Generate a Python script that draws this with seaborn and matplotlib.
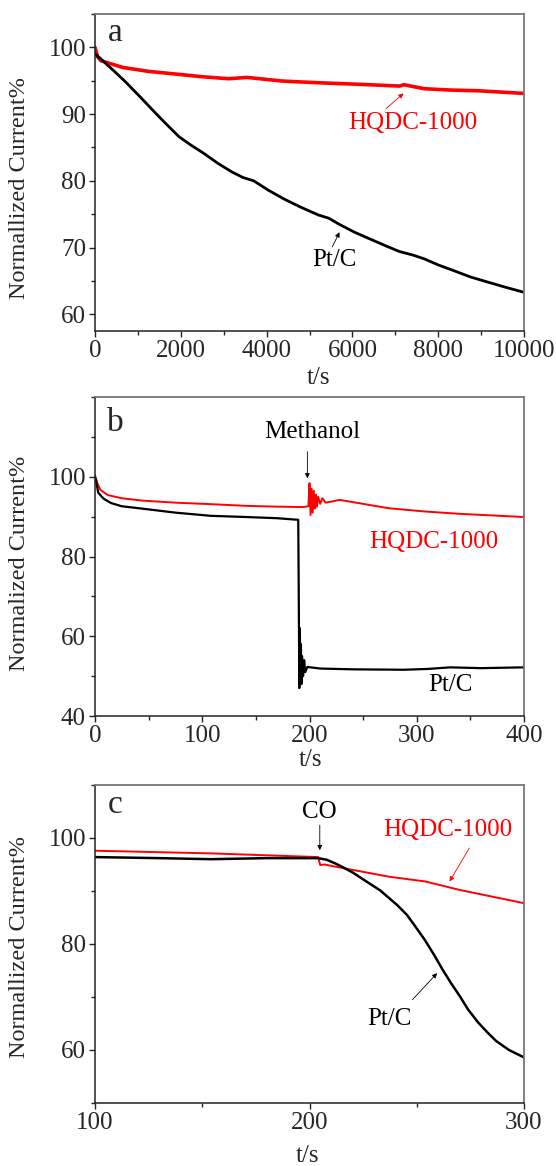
import matplotlib
matplotlib.use("Agg")
import matplotlib.pyplot as plt
from matplotlib.ticker import MultipleLocator
import seaborn as sns
import pandas as pd

# ---- panel a : long-term stability ----
a_t_pt = [0, 150, 300, 470, 700, 1050, 1300, 1600, 1960, 2250, 2540, 2870, 3200, 3450, 3700, 4040,
          4400, 4780, 5200, 5450, 5690, 6050, 6440, 6800, 7100, 7400, 7680, 8000, 8340, 8750, 9170,
          9600, 10000]
a_pt = [99.0, 98.2, 97.3, 96.3, 94.9, 92.6, 90.9, 88.9, 86.6, 85.3, 84.1, 82.6, 81.3, 80.5, 80.0, 78.6,
        77.3, 76.1, 74.9, 74.4, 73.5, 72.3, 71.2, 70.2, 69.4, 68.9, 68.3, 67.4, 66.6, 65.6, 64.8,
        64.0, 63.3]
a_t_hq = [0, 60, 140, 640, 1250, 1880, 2500, 3120, 3540, 4370, 5200, 6020, 7100, 7200, 7680, 8300, 8920, 10000]
a_hq = [100.0, 98.6, 98.0, 97.0, 96.4, 96.0, 95.6, 95.3, 95.5, 94.95, 94.7, 94.5, 94.2, 94.4, 93.8, 93.6, 93.5, 93.1]

# ---- panel b : methanol ----
b_t_pt = [0, 1, 3, 8, 15, 25, 41, 75, 108, 141, 170, 189.5, 190, 190.5, 191, 191.5, 192, 192.5,
          193, 194, 195, 196, 198, 210, 241, 288, 310, 331, 360, 400]
b_pt = [100, 99, 96, 94.5, 93.4, 92.6, 92.1, 91.0, 90.2, 89.9, 89.6, 89.2, 70, 47, 62, 50, 58, 48,
        55, 50, 54, 51, 52.3, 51.9, 51.7, 51.6, 51.8, 52.2, 52.0, 52.2]
b_t_hq = [0, 2, 5, 12, 25, 45, 75, 110, 141, 170, 194, 199, 200, 201, 202, 203, 204, 205, 206, 207,
          208, 210, 212, 215, 221, 228, 250, 274, 307, 340, 370, 400]
b_hq = [100.3, 98.5, 96.7, 95.4, 94.6, 94.0, 93.5, 93.1, 92.7, 92.5, 92.4, 92.6, 98.4, 90.4, 97, 91,
        96.5, 92, 95.5, 92.5, 95, 93.2, 94.6, 93.5, 93.8, 94.2, 93.2, 92.1, 91.3, 90.7, 90.3, 89.9]

# ---- panel c : CO ----
c_t_pt = [100, 130, 154, 180, 204, 208, 212, 216, 220.5, 225, 228.8, 233, 237, 241, 245.4, 249, 253.7,
          258, 262, 266, 270, 274, 278.6, 283, 287, 293, 300]
c_pt = [96.4, 96.2, 96.0, 96.2, 96.2, 95.9, 95.2, 94.4, 93.4, 92.2, 91.2, 90.1, 88.7, 87.3, 85.5, 83.5, 80.8,
        78.0, 75.2, 72.6, 70.2, 67.6, 65.2, 63.3, 61.7, 60.0, 58.6]
c_t_hq = [100, 154, 204, 205, 207, 212, 237, 254, 270, 300]
c_hq = [97.6, 97.1, 96.4, 94.9, 95.0, 94.6, 92.7, 91.8, 90.2, 87.7]

sns.set_style("ticks")
plt.rcParams["font.family"] = ["Liberation Serif", "DejaVu Serif"]

fig = plt.figure(figsize=(5.56, 11.66), dpi=100)
W, H = 556, 1166
left, right = 95, 524
boxes = [(14, 331), (397, 716), (785, 1103)]
axes = [fig.add_axes([left / W, 1 - b / H, (right - left) / W, (b - t) / H]) for t, b in boxes]

FS = 18


def style(ax, xlim, ylim, xmaj, xmin, ymin, yticks):
    ax.set_xlim(*xlim)
    ax.set_ylim(*ylim)
    ax.xaxis.set_major_locator(MultipleLocator(xmaj))
    ax.xaxis.set_minor_locator(MultipleLocator(xmin))
    ax.set_yticks(yticks)
    ax.yaxis.set_minor_locator(MultipleLocator(ymin))
    ax.tick_params(which="both", direction="out", top=False, right=False, labelsize=FS, color="#222222", pad=2)
    ax.tick_params(which="major", length=4.5, width=1.0)
    ax.tick_params(which="minor", length=2.8, width=1.0)
    for s in ["left", "bottom"]:
        ax.spines[s].set_color("#222222")
        ax.spines[s].set_linewidth(1.1)
    for s in ["top", "right"]:
        ax.spines[s].set_visible(True)
        ax.spines[s].set_color("#777777")
        ax.spines[s].set_linewidth(1.3)


def draw(ax, t, v, color, lw):
    df = pd.DataFrame({"t": t, "v": v})
    sns.lineplot(data=df, x="t", y="v", color=color, lw=lw, ax=ax, sort=False, estimator=None)


def arrow(ax, start, end, color):
    ax.annotate("", xy=end, xytext=start,
                arrowprops=dict(arrowstyle="-|>", color=color, lw=0.6, mutation_scale=7,
                                shrinkA=0, shrinkB=0))


def labels(ax, ylabel, ly, lx, xy):
    ax.set_ylabel(ylabel, fontsize=17.5)
    ax.yaxis.set_label_coords(-0.1515, ly)
    ax.set_xlabel("t/s", fontsize=FS)
    ax.xaxis.set_label_coords(lx, xy)


# panel a
ax = axes[0]
draw(ax, a_t_hq, a_hq, "#ff0000", 2.6)
draw(ax, a_t_pt, a_pt, "black", 2.0)
style(ax, (0, 10000), (57.5, 105), 2000, 1000, 5, [60, 70, 80, 90, 100])
ax.text(7400, 88.6, "HQDC-1000", color="#ff0000", fontsize=FS, ha="center", va="center")
arrow(ax, (6780, 90.8), (7190, 93.1), "#ff0000")
ax.text(5570, 68.1, "Pt/C", color="black", fontsize=FS, ha="center", va="center")
arrow(ax, (5530, 70.1), (5700, 72.3), "black")
ax.text(0.047, 0.94, "a", transform=ax.transAxes, fontsize=24, ha="center", va="center")
labels(ax, "Normallized Current%", 0.45, 0.52, -0.114)

# panel b
ax = axes[1]
draw(ax, b_t_hq, b_hq, "#ff0000", 1.4)
draw(ax, b_t_pt, b_pt, "black", 1.6)
style(ax, (0, 400), (40, 120), 100, 50, 10, [40, 60, 80, 100])
ax.text(203, 111.3, "Methanol", color="black", fontsize=FS, ha="center", va="center")
arrow(ax, (198, 106.3), (198, 99.6), "black")
ax.text(316, 83.7, "HQDC-1000", color="#ff0000", fontsize=FS, ha="center", va="center")
ax.text(331, 47.8, "Pt/C", color="black", fontsize=FS, ha="center", va="center")
ax.text(0.047, 0.918, "b", transform=ax.transAxes, fontsize=24, ha="center", va="center")
labels(ax, "Normalized Current%", 0.48, 0.503, -0.103)

# panel c
ax = axes[2]
draw(ax, c_t_hq, c_hq, "#ff0000", 1.4)
draw(ax, c_t_pt, c_pt, "black", 1.8)
style(ax, (100, 300), (50, 110), 100, 50, 10, [60, 80, 100])
ax.text(204.8, 104.9, "CO", color="black", fontsize=FS, ha="center", va="center")
arrow(ax, (204.8, 102.4), (204.8, 97.7), "black")
ax.text(264.5, 101.5, "HQDC-1000", color="#ff0000", fontsize=FS, ha="center", va="center")
arrow(ax, (274.5, 98.1), (265.3, 91.8), "#ff0000")
ax.text(237.2, 65.8, "Pt/C", color="black", fontsize=FS, ha="center", va="center")
arrow(ax, (248, 69.5), (259.5, 74.5), "black")
ax.text(0.047, 0.937, "c", transform=ax.transAxes, fontsize=24, ha="center", va="center")
labels(ax, "Normallized Current%", 0.49, 0.495, -0.132)

fig.savefig("out.png", dpi=100)
